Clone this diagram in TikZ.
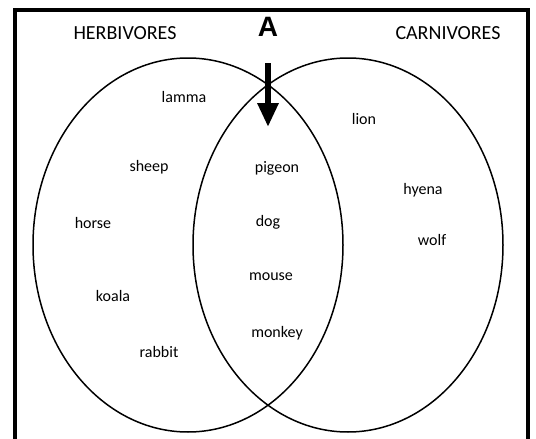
\documentclass[tikz,border=0pt]{standalone}
\usepackage{fontspec}
\setmainfont{Carlito}
\newfontfamily\markfont{Liberation Sans}
\usetikzlibrary{arrows.meta}

\begin{document}
\begin{tikzpicture}[x=1pt, y=-1pt,
  setline/.style={line width=1.5pt},
  frame/.style={line width=4pt},
  head/.style={font=\fontsize{20}{24}\selectfont, inner sep=0pt, text height=0.64em, text depth=0pt},
  animal/.style={font=\fontsize{16}{19}\selectfont, inner sep=0pt, text height=0.7em, text depth=0.25em},
  tagA/.style={font=\markfont\bfseries\fontsize{28}{32}\selectfont, inner sep=0pt, text height=0.72em, text depth=0pt},
  pointer/.style={line width=6.5pt, -{Triangle[length=24pt, width=20pt]}},
]
\useasboundingbox (0,0) rectangle (536,439);
\clip (0,0) rectangle (536,439);
\fill[white] (0,0) rectangle (536,439);
% outer frame, its bottom edge lies below the picture
\draw[frame] (15,470) -- (15,10) -- (528,10) -- (528,470);
% the two sets
\def\cy{245}
\draw[setline] (188,\cy) ellipse [x radius=155pt, y radius=187pt];
\draw[setline] (348,\cy) ellipse [x radius=155pt, y radius=187pt];
% titles
\node[head] (herb) at (125,36) {HERBIVORES};
\node[head] (carn) at (448,36) {CARNIVORES};
\node[tagA] (lblA) at (268,33) {A};
\coordinate (atop) at (268,63);
\coordinate (atip) at (268,127);
\draw[pointer] (atop) -- (atip);
% herbivores only
\node[animal] (lamma)  at (184,100) {lamma};
\node[animal] (sheep)  at (149,169) {sheep};
\node[animal] (horse)  at (93,226)  {horse};
\node[animal] (koala)  at (113,299) {koala};
\node[animal] (rabbit) at (159,355) {rabbit};
% both
\node[animal] (pigeon) at (277,170) {pigeon};
\node[animal] (dog)    at (268,224) {dog};
\node[animal] (mouse)  at (271,278) {mouse};
\node[animal] (monkey) at (277,335) {monkey};
% carnivores only
\node[animal] (lion)   at (364,122) {lion};
\node[animal] (hyena)  at (423,192) {hyena};
\node[animal] (wolf)   at (432,243) {wolf};
\end{tikzpicture}
\end{document}
